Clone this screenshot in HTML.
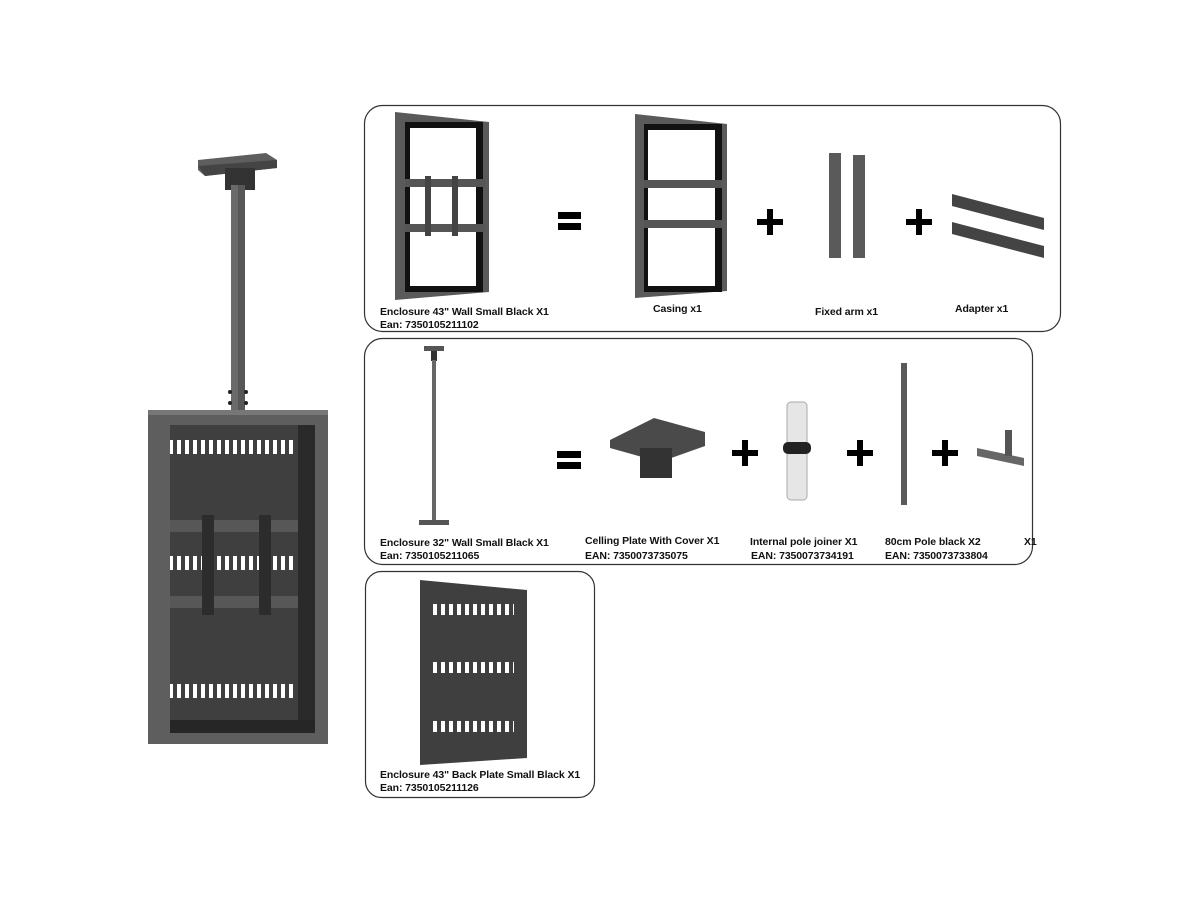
<!DOCTYPE html>
<html><head><meta charset="utf-8"><style>
html,body{margin:0;padding:0;background:#fff;}
svg{display:block}
text{font-family:"Liberation Sans",sans-serif;font-weight:bold;font-size:10.5px;fill:#111;letter-spacing:-0.1px;}
</style></head><body>
<svg width="1200" height="900" viewBox="0 0 1200 900" xmlns="http://www.w3.org/2000/svg">
<defs>
<pattern id="vents" x="0" y="0" width="8" height="20" patternUnits="userSpaceOnUse"><rect x="1" y="0" width="4" height="20" fill="#fff"/></pattern>
</defs>
<!-- Left main product -->
<polygon points="198,160 266,153 277,160 277,168 205,176 198,170" fill="#5e5e5e"/>
<polygon points="198,166 277,160 277,168 205,176" fill="#444"/>
<rect x="225" y="168" width="30" height="22" fill="#333"/>
<rect x="231" y="185" width="14" height="225" fill="#6a6a6a"/>
<rect x="238" y="185" width="7" height="225" fill="#575757"/>
<circle cx="230" cy="392" r="2" fill="#222"/><circle cx="246" cy="392" r="2" fill="#222"/>
<circle cx="230" cy="403" r="2" fill="#222"/><circle cx="246" cy="403" r="2" fill="#222"/>
<rect x="148" y="410" width="180" height="334" fill="#5e5e5e"/>
<rect x="148" y="410" width="180" height="5" fill="#777"/>
<rect x="170" y="425" width="145" height="308" fill="#3f3f3f"/>
<rect x="298" y="425" width="17" height="308" fill="#2a2a2a"/>
<rect x="170" y="720" width="145" height="13" fill="#262626"/>
<rect x="170" y="440" width="124" height="14" fill="url(#vents)"/>
<rect x="170" y="556" width="124" height="14" fill="url(#vents)"/>
<rect x="170" y="684" width="124" height="14" fill="url(#vents)"/>
<rect x="170" y="520" width="128" height="12" fill="#575757"/>
<rect x="170" y="596" width="128" height="12" fill="#575757"/>
<rect x="202" y="515" width="12" height="100" fill="#2c2c2c"/>
<rect x="259" y="515" width="12" height="100" fill="#2c2c2c"/>

<!-- Box 1 -->
<rect x="364.5" y="105.5" width="696" height="226" rx="18" fill="none" stroke="#333" stroke-width="1.2"/>
<g>
<polygon points="395,112 489,122 489,292 395,300" fill="#5a5a5a"/>
<rect x="405" y="122" width="78" height="170" fill="#111"/>
<rect x="410" y="128" width="66" height="158" fill="#fff"/>
<rect x="405" y="179" width="80" height="8" fill="#555"/>
<rect x="405" y="224" width="80" height="8" fill="#555"/>
<rect x="425" y="176" width="6" height="60" fill="#444"/>
<rect x="452" y="176" width="6" height="60" fill="#444"/>
</g>
<g>
<polygon points="635,114 727,124 727,291 635,298" fill="#5a5a5a"/>
<rect x="644" y="124" width="78" height="168" fill="#111"/>
<rect x="648" y="130" width="67" height="156" fill="#fff"/>
<rect x="644" y="180" width="78" height="8" fill="#555"/>
<rect x="644" y="220" width="78" height="8" fill="#555"/>
</g>
<rect x="829" y="153" width="12" height="105" fill="#5a5a5a"/>
<rect x="853" y="155" width="12" height="103" fill="#5a5a5a"/>
<polygon points="952,194 1044,218 1044,230 952,206" fill="#444"/>
<polygon points="952,222 1044,246 1044,258 952,234" fill="#444"/>
<rect x="558" y="212" width="23" height="7" fill="#000"/><rect x="558" y="223" width="23" height="7" fill="#000"/>
<rect x="767" y="209" width="6" height="26" fill="#000"/><rect x="757" y="219" width="26" height="6" fill="#000"/>
<rect x="916" y="209" width="6" height="26" fill="#000"/><rect x="906" y="219" width="26" height="6" fill="#000"/>
<text x="380" y="315">Enclosure 43" Wall Small Black X1</text>
<text x="380" y="328">Ean: 7350105211102</text>
<text x="653" y="312">Casing x1</text>
<text x="815" y="315">Fixed arm x1</text>
<text x="955" y="312">Adapter x1</text>

<!-- Box 2 -->
<rect x="364.5" y="338.5" width="668" height="226" rx="18" fill="none" stroke="#333" stroke-width="1.2"/>
<rect x="424" y="346" width="20" height="5" fill="#555"/>
<rect x="431" y="351" width="6" height="10" fill="#333"/>
<rect x="432" y="360" width="4" height="160" fill="#666"/>
<rect x="419" y="520" width="30" height="5" fill="#555"/>
<rect x="557" y="451" width="24" height="7" fill="#000"/><rect x="557" y="462" width="24" height="7" fill="#000"/>
<polygon points="610,440 654,418 705,432 705,446 660,462 610,448" fill="#4a4a4a"/>
<rect x="640" y="448" width="32" height="30" fill="#333"/>
<rect x="742" y="440" width="6" height="26" fill="#000"/><rect x="732" y="450" width="26" height="6" fill="#000"/>
<rect x="787" y="402" width="20" height="98" rx="4" fill="#e6e6e6" stroke="#aaa"/>
<rect x="783" y="442" width="28" height="12" rx="5" fill="#222"/>
<rect x="857" y="440" width="6" height="26" fill="#000"/><rect x="847" y="450" width="26" height="6" fill="#000"/>
<rect x="901" y="363" width="6" height="142" fill="#5a5a5a"/>
<rect x="942" y="440" width="6" height="26" fill="#000"/><rect x="932" y="450" width="26" height="6" fill="#000"/>
<polygon points="977,448 1024,458 1024,466 977,456" fill="#666"/>
<rect x="1005" y="430" width="7" height="26" fill="#555"/>
<text x="380" y="546">Enclosure 32" Wall Small Black X1</text>
<text x="380" y="559">Ean: 7350105211065</text>
<text x="585" y="544">Celling Plate With Cover X1</text>
<text x="585" y="559">EAN: 7350073735075</text>
<text x="750" y="545">Internal pole joiner X1</text>
<text x="751" y="559">EAN: 7350073734191</text>
<text x="885" y="545">80cm Pole black X2</text>
<text x="885" y="559">EAN:  7350073733804</text>
<text x="1024" y="545">X1</text>

<!-- Box 3 -->
<rect x="365.5" y="571.5" width="229" height="226" rx="16" fill="none" stroke="#333" stroke-width="1.2"/>
<polygon points="420,580 527,590 527,758 420,765" fill="#3f3f3f"/>
<rect x="432" y="604" width="82" height="11" fill="url(#vents)"/>
<rect x="432" y="662" width="82" height="11" fill="url(#vents)"/>
<rect x="432" y="721" width="82" height="11" fill="url(#vents)"/>
<text x="380" y="778">Enclosure 43" Back Plate Small Black X1</text>
<text x="380" y="791">Ean: 7350105211126</text>
</svg>
</body></html>
